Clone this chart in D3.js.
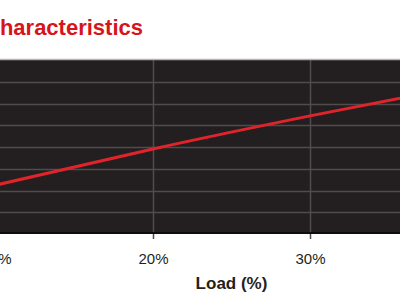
<!DOCTYPE html>
<html>
<head>
<meta charset="utf-8">
<script src="https://cdn.jsdelivr.net/npm/d3@7"></script>
<style>
  html, body { margin: 0; padding: 0; background: #ffffff; overflow: hidden; }
  svg { display: block; }
</style>
</head>
<body>
<svg id="chart" width="400" height="300"></svg>
<script>
// ---- data ----
const title = "Characteristics";
const xLabel = "Load (%)";
const loads = [10, 20, 30, 40];           // load (%)
const values = [2.25, 3.91, 5.43, 6.85];  // relative value (grid units)
const xTicks = [10, 20, 30];
const yTicks = [0, 1, 2, 3, 4, 5, 6, 7, 8];

const svg = d3.select("#chart");
const plotTop = 60, plotBottom = 234;

const x = d3.scaleLinear().domain([10, 40]).range([-4, 467]);
const y = d3.scaleLinear().domain([0, 8]).range([plotBottom, plotTop]);

// title (clipped at the left, as in the reference)
svg.append("text")
  .attr("x", 143).attr("y", 35)
  .attr("text-anchor", "end")
  .attr("font-family", "Liberation Sans, Arial, sans-serif")
  .attr("font-weight", "bold")
  .attr("font-size", 22)
  .attr("fill", "#d7141a")
  .text(title);

// plot background
svg.append("rect")
  .attr("x", -10).attr("y", plotTop)
  .attr("width", 420).attr("height", plotBottom - plotTop)
  .attr("fill", "#231f20");

// horizontal grid
svg.append("g").selectAll("line")
  .data(yTicks.slice(1, -1)).join("line")
  .attr("x1", -10).attr("x2", 410)
  .attr("y1", d => Math.round(y(d)) + 0.5).attr("y2", d => Math.round(y(d)) + 0.5)
  .attr("stroke", "#504c4d").attr("stroke-width", 1.5);

// vertical grid
svg.append("g").selectAll("line")
  .data(xTicks).join("line")
  .attr("x1", d => Math.round(x(d)) + 0.5).attr("x2", d => Math.round(x(d)) + 0.5)
  .attr("y1", plotTop).attr("y2", plotBottom + 5)
  .attr("stroke", "#504c4d").attr("stroke-width", 1.5);

// top border
svg.append("line")
  .attr("x1", -10).attr("x2", 410).attr("y1", plotTop - 0.5).attr("y2", plotTop - 0.5)
  .attr("stroke", "#b5b3b4").attr("stroke-width", 1.5);
// bottom border
svg.append("line")
  .attr("x1", -10).attr("x2", 410).attr("y1", plotBottom - 1).attr("y2", plotBottom - 1)
  .attr("stroke", "#0e0c0d").attr("stroke-width", 2);

// x axis labels
const xAxis = d3.axisBottom(x).tickValues(xTicks).tickFormat(d => d + "%").tickSize(0).tickPadding(0);
const gx = svg.append("g").attr("transform", `translate(0,${plotBottom})`).call(xAxis);
gx.select(".domain").remove();
gx.selectAll("text")
  .attr("dy", null).attr("y", 30)
  .attr("font-family", "Liberation Sans, Arial, sans-serif")
  .attr("font-size", 15)
  .attr("fill", "#231f20");

// axis title
svg.append("text")
  .attr("x", 231.5).attr("y", 289)
  .attr("text-anchor", "middle")
  .attr("font-family", "Liberation Sans, Arial, sans-serif")
  .attr("font-weight", "bold")
  .attr("font-size", 17)
  .attr("fill", "#231f20")
  .text(xLabel);

// red line
const line = d3.line().x((d, i) => x(loads[i])).y(d => y(d)).curve(d3.curveMonotoneX);
svg.append("path")
  .datum(values)
  .attr("d", line)
  .attr("fill", "none")
  .attr("stroke", "#e1242b")
  .attr("stroke-width", 3);
</script>
</body>
</html>
